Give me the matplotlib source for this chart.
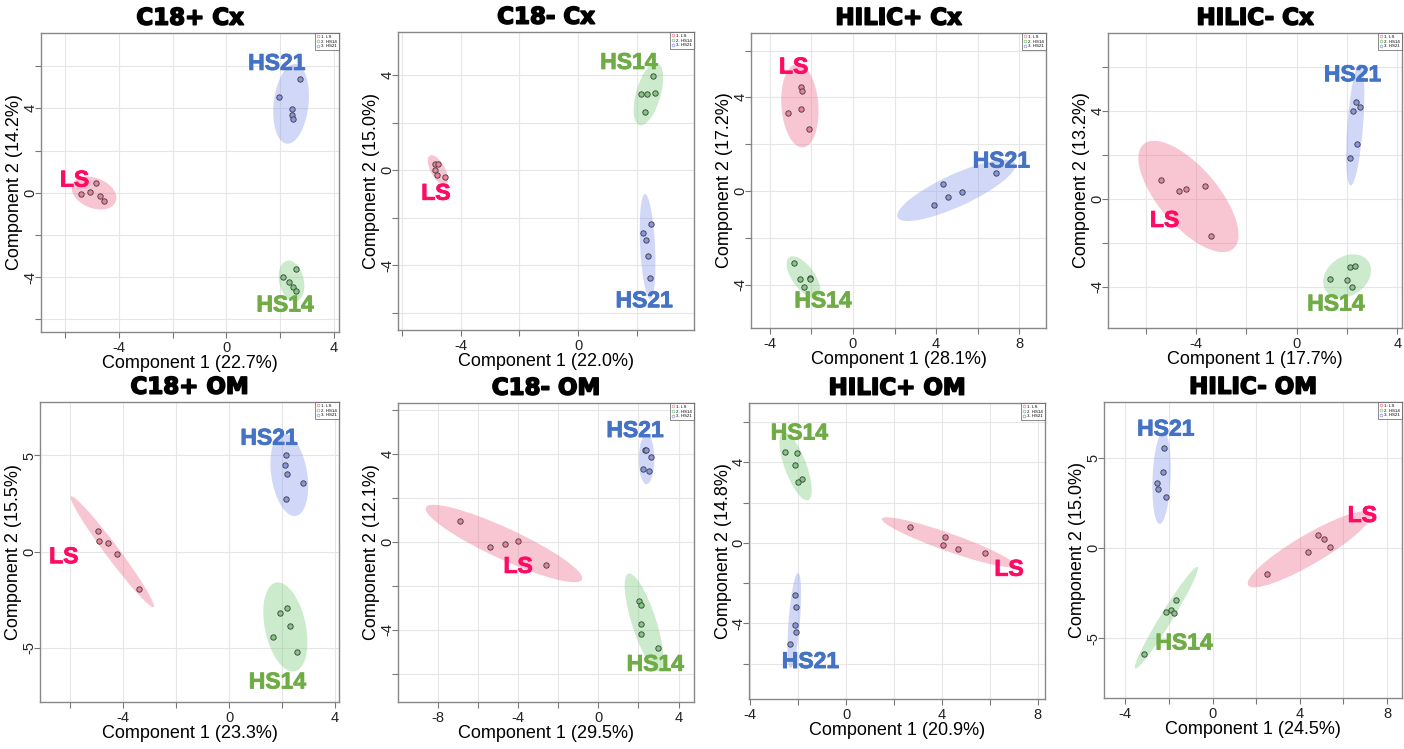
import numpy as np
import matplotlib
matplotlib.use('Agg')
import matplotlib.pyplot as plt
import matplotlib.patheffects as pe
from matplotlib.patches import Ellipse
from matplotlib.lines import Line2D

# panel titles and explained variance
titles = ['C18+ Cx', 'C18- Cx', 'HILIC+ Cx', 'HILIC- Cx',
          'C18+ OM', 'C18- OM', 'HILIC+ OM', 'HILIC- OM']
pc1 = [22.7, 22.0, 28.1, 17.7, 23.3, 29.5, 20.9, 24.5]
pc2 = [14.2, 15.0, 17.2, 13.2, 15.5, 12.1, 14.8, 15.0]

# scores, one list per panel
ls_x = [[-5.42, -5.08, -4.85, -4.71, -4.55],
        [-4.88, -4.78, -4.86, -4.81, -4.53],
        [-2.52, -2.44, -3.14, -2.52, -2.13],
        [-5.41, -4.68, -4.39, -3.64, -3.39],
        [-4.96, -4.92, -4.57, -4.24, -3.39],
        [-6.88, -5.38, -4.62, -4.00, -2.59],
        [2.68, 4.13, 4.05, 4.69, 5.81],
        [2.49, 4.37, 4.84, 5.11, 5.40]]
ls_y = [[-0.05, 0.05, 0.47, -0.17, -0.39],
        [0.28, 0.25, -0.01, -0.21, -0.27],
        [4.45, 4.28, 3.34, 3.49, 2.67],
        [0.88, 0.36, 0.46, 0.59, -1.70],
        [1.09, 0.54, 0.45, -0.12, -1.96],
        [0.95, -0.24, -0.11, 0.05, -1.06],
        [0.78, 0.28, -0.12, -0.31, -0.48],
        [-1.45, -0.24, 0.74, 0.52, 0.07]]
hs14_x = [[2.13, 2.58, 2.35, 2.50, 2.60],
          [2.57, 2.13, 2.36, 2.63, 2.29],
          [-2.84, -2.55, -2.08, -2.05, -2.37],
          [1.34, 2.12, 2.33, 2.02, 2.22],
          [2.19, 1.93, 2.29, 1.68, 2.57],
          [2.04, 2.14, 2.13, 2.13, 2.99],
          [-2.56, -2.04, -2.11, -1.82, -2.00],
          [-1.66, -1.91, -2.12, -1.76, -3.13]]
hs14_y = [[-3.98, -3.63, -4.23, -4.45, -4.64],
          [3.96, 3.19, 3.19, 3.24, 2.44],
          [-3.08, -3.75, -3.72, -3.76, -4.08],
          [-3.64, -3.11, -3.07, -3.69, -4.01],
          [-2.90, -3.16, -3.85, -4.41, -5.23],
          [-2.68, -2.86, -3.75, -4.21, -4.84],
          [4.49, 4.45, 3.86, 3.16, 3.03],
          [-2.87, -3.41, -3.55, -3.57, -5.84]]
hs21_x = [[1.98, 2.73, 2.44, 2.44, 2.49],
          [2.48, 2.22, 2.30, 2.39, 2.46],
          [3.88, 4.34, 4.55, 5.22, 6.86],
          [2.35, 2.25, 2.51, 2.42, 2.13],
          [2.14, 2.12, 2.19, 2.80, 2.15],
          [2.34, 2.36, 2.61, 2.21, 2.52],
          [-2.14, -2.09, -2.14, -2.07, -2.36],
          [-2.24, -2.27, -2.55, -2.49, -2.15]]
hs21_y = [[4.52, 5.40, 3.97, 3.67, 3.49],
          [-2.27, -2.64, -2.95, -3.62, -4.55],
          [-0.61, 0.31, -0.27, -0.06, 0.78],
          [4.42, 3.99, 4.17, 2.49, 1.88],
          [5.05, 4.50, 4.06, 3.59, 2.76],
          [4.18, 4.16, 3.87, 3.30, 3.21],
          [-2.60, -3.18, -4.07, -4.44, -5.00],
          [5.52, 4.20, 3.59, 3.26, 2.84]]

# where the big group names sit (data coords)
ls_label = [(-5.65, 0.6), (-4.84, -0.97), (-2.85, 5.3), (-5.25, -0.97),
            (-6.25, -0.26), (-3.99, -1.12), (6.80, -1.31), (6.87, 1.80)]
hs14_label = [(2.19, -5.32), (1.73, 4.53), (-1.44, -4.69), (1.56, -4.78),
              (1.83, -6.77), (2.84, -5.57), (-1.95, 5.45), (-1.31, -5.25)]
hs21_label = [(1.88, 6.13), (2.25, -5.49), (7.13, 1.28), (2.22, 5.66),
              (1.51, 5.90), (1.83, 5.05), (-1.49, -5.89), (-2.15, 6.57)]

xlims = [(-6.9, 4.2), (-6.13, 3.95), (-4.9, 9.28), (-7.5, 4.19),
         (-7.15, 4.16), (-9.97, 4.77), (-4.05, 8.3), (-4.98, 8.69)]
ylims = [(-6.6, 7.57), (-6.72, 5.81), (-5.85, 6.75), (-5.87, 7.56),
         (-7.81, 7.78), (-7.28, 6.3), (-7.75, 6.94), (-8.29, 8.07)]
ystep = [2, 2, 2, 2, 5, 2, 2, 5]

# axes boxes in pixels (left, top, right, bottom)
boxes = [(41, 33, 339, 332), (398, 32, 694, 330), (751, 33, 1046, 328), (1108, 33, 1402, 328),
         (40, 402, 339, 702), (398, 403, 694, 702), (749, 403, 1045, 699), (1104, 402, 1402, 698)]

W, H = 1404, 749
point_col = {'LS': '#e8829a', 'HS14': '#80c880', 'HS21': '#8896e0'}
fill_col = {'LS': '#ef6f8f', 'HS14': '#80cc80', 'HS21': '#8c9cec'}
text_col = {'LS': '#ff0a64', 'HS14': '#6fac46', 'HS21': '#4472c4'}
T95 = np.sqrt(-2 * np.log(0.05))


def conf_ellipse(x, y, color):
    x, y = np.asarray(x), np.asarray(y)
    vals, vecs = np.linalg.eigh(np.cov(x, y))
    order = vals.argsort()[::-1]
    vals, vecs = vals[order], vecs[:, order]
    ang = np.degrees(np.arctan2(vecs[1, 0], vecs[0, 0]))
    return Ellipse((x.mean(), y.mean()), 2 * T95 * np.sqrt(vals[0]), 2 * T95 * np.sqrt(vals[1]),
                   angle=ang, facecolor=color, alpha=0.4, edgecolor='none', zorder=1)


def ticks(lo, hi, step):
    return np.arange(np.ceil(lo / step) * step, hi + 1e-9, step)


fig = plt.figure(figsize=(W / 100, H / 100), dpi=100)
plt.rcParams['font.family'] = ['Liberation Sans', 'DejaVu Sans']

for i in range(8):
    l, t, r, b = boxes[i]
    ax = fig.add_axes([l / W, 1 - b / H, (r - l) / W, (b - t) / H])
    ax.set_xlim(xlims[i])
    ax.set_ylim(ylims[i])

    groups = [('LS', ls_x[i], ls_y[i], ls_label[i]),
              ('HS14', hs14_x[i], hs14_y[i], hs14_label[i]),
              ('HS21', hs21_x[i], hs21_y[i], hs21_label[i])]
    for name, gx, gy, lab in groups:
        ax.add_patch(conf_ellipse(gx, gy, fill_col[name]))
        ax.scatter(gx, gy, s=15, c=point_col[name], edgecolors='#3a3a3a', linewidths=0.6, zorder=3)
        ax.text(lab[0], lab[1], name, color=text_col[name], fontsize=16.5, fontweight='bold',
                ha='center', va='center', zorder=4,
                path_effects=[pe.withStroke(linewidth=0.6, foreground=text_col[name])])

    xt = ticks(*xlims[i], 2)
    ax.set_xticks(xt)
    ax.set_xticklabels(['%d' % v if v % 4 == 0 else '' for v in xt])
    yt = ticks(*ylims[i], ystep[i])
    ax.set_yticks(yt)
    if ystep[i] == 2:
        ax.set_yticklabels(['%d' % v if v % 4 == 0 else '' for v in yt])
    else:
        ax.set_yticklabels(['%d' % v for v in yt])
    for lbl in ax.get_yticklabels():
        lbl.set_rotation(90)
        lbl.set_va('center')
    ax.tick_params(length=4.5, width=0.8, color='#777777', labelsize=10.5, labelcolor='#222222', pad=2)
    ax.tick_params(axis='y', pad=-2)
    ax.grid(True, color='#e6e6e6', linewidth=0.8, zorder=0)
    ax.set_axisbelow(True)
    for sp in ax.spines.values():
        sp.set_color('#888888')
        sp.set_linewidth(1.0)

    ax.set_xlabel('Component 1 (%.1f%%)' % pc1[i], fontsize=13, labelpad=0)
    ax.set_ylabel('Component 2 (%.1f%%)' % pc2[i], fontsize=13)
    ax.yaxis.set_label_coords(-17.5 / (r - l), 0.5)
    ttl = ax.set_title(titles[i], fontsize=16.5, fontweight='bold', family='DejaVu Sans', pad=6)
    ttl.set_path_effects([pe.withStroke(linewidth=1.2, foreground='black')])

    handles = [Line2D([], [], marker='o', linestyle='', markerfacecolor='none',
                      markeredgecolor=point_col[g], markersize=2, markeredgewidth=0.5)
               for g in ['LS', 'HS14', 'HS21']]
    leg = ax.legend(handles, ['1. LS', '2. HS14', '3. HS21'], loc='upper right', fontsize=3.2,
                    frameon=True, fancybox=False, borderaxespad=0, handlelength=0.8,
                    handletextpad=0.3, borderpad=0.4, labelspacing=0.15)
    leg.get_frame().set_edgecolor('#555555')
    leg.get_frame().set_linewidth(0.6)

fig.savefig('out.png', dpi=100)
